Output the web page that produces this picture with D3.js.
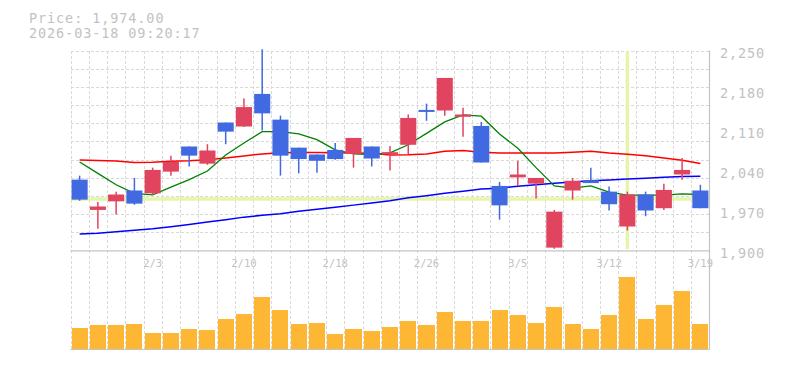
<!DOCTYPE html>
<html>
<head>
<meta charset="utf-8">
<script src="https://cdn.jsdelivr.net/npm/d3@7"></script>
<style>
  html, body { margin: 0; padding: 0; background: #fff; }
  svg { display: block; }
  text { font-family: "DejaVu Sans Mono", "Liberation Mono", monospace; fill: #c2c2c2; }
</style>
</head>
<body>
<svg id="chart" width="785" height="370"></svg>
<script>
// ---------------- data ----------------
const dates = ["1/28","1/29","1/30","2/2","2/3","2/4","2/5","2/6","2/9","2/10",
  "2/12","2/13","2/16","2/17","2/18","2/19","2/20","2/24","2/25","2/26",
  "2/27","3/2","3/3","3/4","3/5","3/6","3/9","3/10","3/11","3/12",
  "3/13","3/16","3/17","3/18","3/19"];
const opens  = [2024,1971,1986,2005,2000,2038,2082,2052,2124,2117,
  2174,2129,2080,2068,2076,2069,2082,2069,2085,2146,
  2145,2134,2118,2013,2028,2017,1905,2005,2023,2003,
  1942,1998,1974,2033,2005];
const highs  = [2031,1985,2003,2027,2045,2066,2082,2086,2124,2166,
  2252,2136,2080,2068,2088,2097,2082,2083,2138,2157,
  2202,2150,2125,2020,2057,2027,1971,2027,2045,2012,
  2003,2003,2017,2062,2015];
const lows   = [1987,1938,1963,1980,1997,2031,2047,2050,2086,2116,
  2110,2031,2035,2036,2059,2045,2047,2040,2068,2127,
  2136,2099,2054,1954,2013,1991,1903,1989,2018,1970,
  1935,1960,1971,2024,1974];
const closes = [1989,1977,1998,1982,2041,2055,2066,2075,2108,2151,
  2140,2066,2060,2057,2060,2097,2061,2072,2132,2143,
  2202,2138,2054,1979,2033,2027,1968,2022,2018,1981,
  1998,1970,2006,2041,1974];
const maShort = [2055,2035,2015,2000,1997.5,2011,2024,2039,2067,2088,
  2108,2108,2104,2094,2076,2069,2068,2071,2085,2105,
  2125,2137.5,2135,2104,2079,2045,2013,2009,2013,2002,
  1997,1997,1997,1999,1998];
const maMid = [2058.5,2057.5,2056.5,2054,2054.5,2056,2057,2059,2062,2065.5,
  2069,2071,2071.5,2071.5,2071,2070.5,2070,2067,2067.5,2069,
  2073.5,2075,2072,2070.5,2070.5,2070.5,2070.5,2072,2073.5,2070.5,
  2068.3,2065.7,2062,2058,2052.2];
const maLong = [1929,1930,1932.7,1935.4,1938,1941.5,1945.3,1949.7,1954,1958.4,
  1961.6,1964.2,1968.6,1972,1975.6,1979.4,1983,1987,1992.2,1996,
  2000,2003.6,2007.6,2009,2012.4,2015,2017.6,2020,2022,2023.5,
  2025,2026.6,2028,2029.5,2030];
const volumes = [205,235,235,245,155,155,195,185,295,345,
  515,385,245,255,145,195,175,215,275,235,
  365,275,275,385,335,255,415,245,195,335,
  715,295,435,575,245];
const yTicks = [1900,1970,2040,2110,2180,2250];
const xTickLabels = ["2/3","2/10","2/18","2/26","3/5","3/12","3/19"];
const priceText = "Price: 1,974.00";
const timeText = "2026-03-18 09:20:17";
const crossDate = "3/13";
const crossPrice = 1990;

// ---------------- layout ----------------
const L = 70.5, R = 709.5, PT = 50.5, PB = 250.5, VB = 349.5;
const cols = 35, rows = 11;

const svg = d3.select("#chart");

const x = d3.scaleBand().domain(dates).range([L, R]).paddingInner(0.12).paddingOuter(0.06);
const y = d3.scaleLinear().domain([1900, 2250]).range([PB, PT]);
const yv = d3.scaleLinear().domain([0, 1000]).range([348.5, 248.5]);
const step = (R - L) / cols;

// grid
const grid = svg.append("g").attr("stroke", "#d9d9d9").attr("stroke-width", 1)
  .attr("stroke-dasharray", "3,2").attr("shape-rendering", "crispEdges");
d3.range(cols).forEach(i => {
  const gx = Math.round(L + i * step) + 0.5;
  grid.append("line").attr("x1", gx).attr("x2", gx).attr("y1", PT).attr("y2", VB);
});
d3.range(rows).forEach(j => {
  const gy = Math.round(PT + j * (PB - PT) / rows) + 0.5;
  grid.append("line").attr("x1", L).attr("x2", R).attr("y1", gy).attr("y2", gy);
});

// crosshair
const cx = x(crossDate) + x.bandwidth() / 2;
svg.append("line").attr("x1", L).attr("x2", R).attr("y1", y(crossPrice)).attr("y2", y(crossPrice))
  .attr("stroke", "#e6f5ab").attr("stroke-width", 3.5);
svg.append("line").attr("x1", cx).attr("x2", cx).attr("y1", PT + 1).attr("y2", PB - 1.5)
  .attr("stroke", "#e6f5ab").attr("stroke-width", 3.5);

// solid frame parts
const frame = svg.append("g").attr("stroke", "#c4c4c4").attr("stroke-width", 1.2);
frame.append("line").attr("x1", L).attr("x2", R + 0.5).attr("y1", PB + 0.3).attr("y2", PB + 0.3);
frame.append("line").attr("x1", L).attr("x2", R + 0.5).attr("y1", VB).attr("y2", VB);
frame.append("line").attr("x1", R).attr("x2", R).attr("y1", PT).attr("y2", VB);

// volume bars
svg.append("g").selectAll("rect").data(dates).join("rect")
  .attr("x", d => x(d)).attr("width", x.bandwidth())
  .attr("y", (d, i) => yv(volumes[i])).attr("height", (d, i) => yv(0) - yv(volumes[i]))
  .attr("fill", "#feb734").attr("shape-rendering", "crispEdges");

// moving averages
const line = arr => d3.line().x((d, i) => x(dates[i]) + x.bandwidth() / 2).y(d => y(d))(arr);
[[maLong, "#0000ff"], [maMid, "#ff0000"], [maShort, "#008000"]].forEach(([arr, c]) => {
  svg.append("path").attr("d", line(arr)).attr("fill", "none").attr("stroke", c)
    .attr("stroke-width", c === "#008000" ? 1.3 : 1.5);
});

// candles
const up = "#e0445f", down = "#4169e1";
const cg = svg.append("g");
dates.forEach((d, i) => {
  const o = opens[i], c = closes[i], h = highs[i], l = lows[i];
  const col = c > o ? up : down;
  const mid = x(d) + x.bandwidth() / 2;
  cg.append("line").attr("x1", mid).attr("x2", mid).attr("y1", Math.max(y(h), PT - 2)).attr("y2", y(l))
    .attr("stroke", col).attr("stroke-width", 1.5);
  const top = y(Math.max(o, c)), bot = y(Math.min(o, c));
  cg.append("rect").attr("x", x(d)).attr("width", x.bandwidth())
    .attr("y", top).attr("height", Math.max(bot - top, 2)).attr("fill", col);
});

// y axis labels
svg.append("g").selectAll("text").data(yTicks).join("text")
  .attr("x", 720).attr("y", d => y(d) + 7.6)
  .style("font-size", "13.5px").style("letter-spacing", "0.9px").text(d => d3.format(",")(d));

// x axis labels
svg.append("g").selectAll("text").data(xTickLabels).join("text")
  .attr("x", d => x(d) + x.bandwidth() / 2).attr("y", 266.5).attr("text-anchor", "middle")
  .style("font-size", "10.5px").text(d => d);

// header
svg.append("text").attr("x", 29).attr("y", 22.7).style("font-size", "13.5px")
  .style("letter-spacing", "0.9px").text(priceText);
svg.append("text").attr("x", 29).attr("y", 38.4).style("font-size", "13.5px")
  .style("letter-spacing", "0.9px").text(timeText);
</script>
</body>
</html>
